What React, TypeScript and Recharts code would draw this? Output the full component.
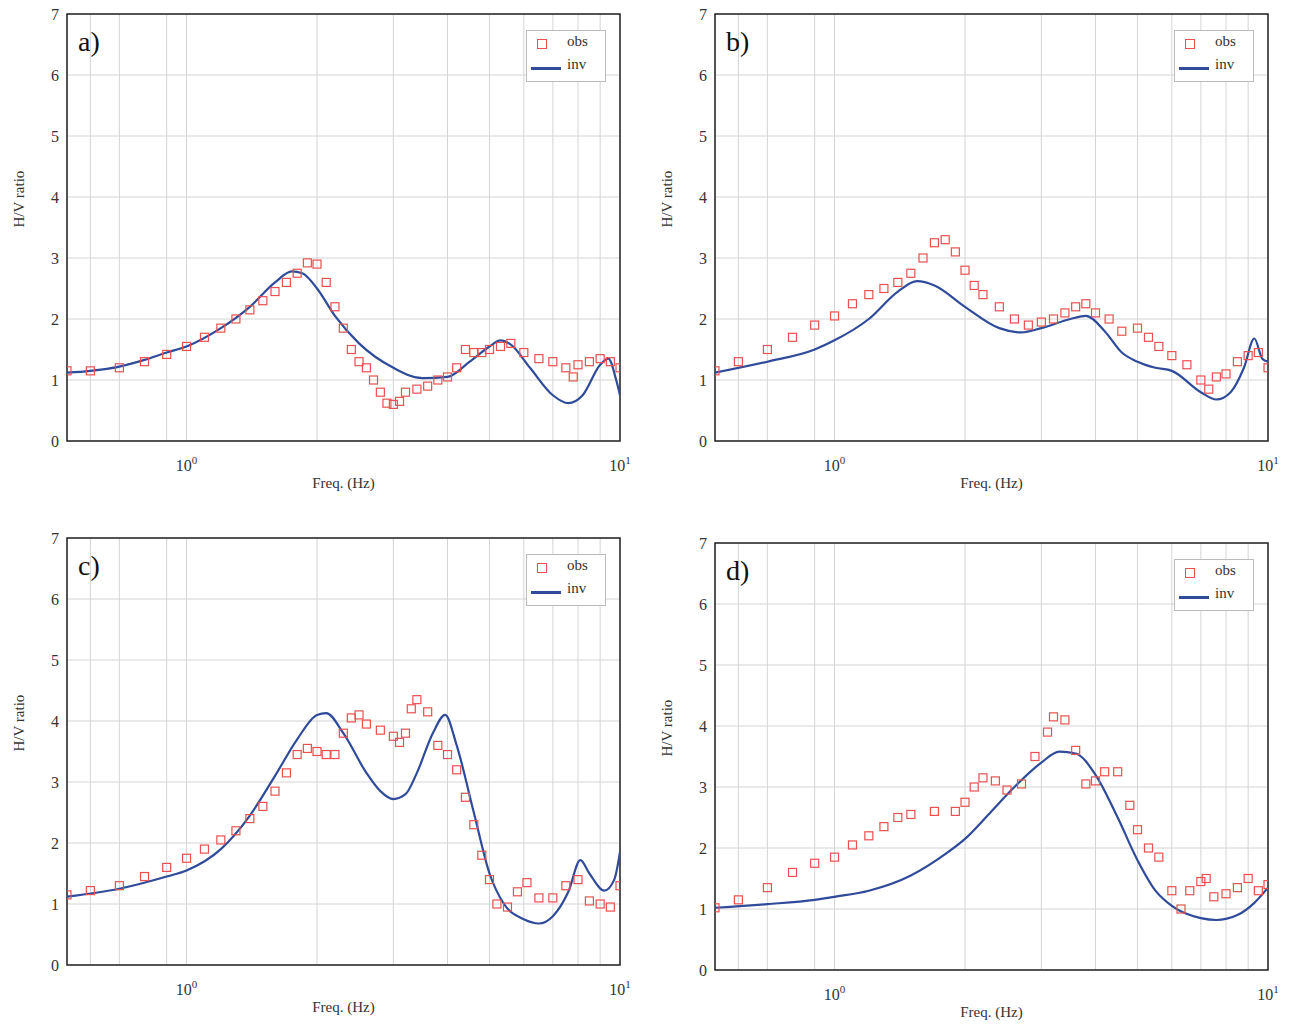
import React from 'react';
import { ComposedChart, Line, Scatter, XAxis, YAxis, CartesianGrid, ReferenceArea } from 'recharts';

const xTicks = [0.6, 0.7, 0.8, 0.9, 1, 2, 3, 4, 5, 6, 7, 8, 9, 10];
const yTicks = [0, 1, 2, 3, 4, 5, 6, 7];

// panel a
const obsAF = [0.53, 0.6, 0.7, 0.8, 0.9, 1.0, 1.1, 1.2, 1.3, 1.4, 1.5, 1.6, 1.7, 1.8, 1.9, 2.0, 2.1, 2.2, 2.3, 2.4, 2.5, 2.6, 2.7, 2.8, 2.9, 3.0, 3.1, 3.2, 3.4, 3.6, 3.8, 4.0, 4.2, 4.4, 4.6, 4.8, 5.0, 5.3, 5.6, 6.0, 6.5, 7.0, 7.5, 7.8, 8.0, 8.5, 9.0, 9.5, 10];
const obsAV = [1.15, 1.15, 1.2, 1.3, 1.42, 1.55, 1.7, 1.85, 2.0, 2.15, 2.3, 2.45, 2.6, 2.75, 2.92, 2.9, 2.6, 2.2, 1.85, 1.5, 1.3, 1.2, 1.0, 0.8, 0.62, 0.6, 0.65, 0.8, 0.85, 0.9, 1.0, 1.05, 1.2, 1.5, 1.45, 1.45, 1.5, 1.55, 1.6, 1.45, 1.35, 1.3, 1.2, 1.05, 1.25, 1.3, 1.35, 1.3, 1.2];
const invAF = [0.53, 0.6, 0.7, 0.8, 0.9, 1.0, 1.2, 1.4, 1.6, 1.75, 1.85, 2.0, 2.2, 2.5, 3.0, 3.5, 4.0, 4.5, 5.0, 5.3, 5.6, 6.2, 7.0, 7.6, 8.2, 9.0, 9.4, 9.8, 10];
const invAV = [1.12, 1.15, 1.22, 1.33, 1.45, 1.55, 1.85, 2.2, 2.6, 2.78, 2.75, 2.5, 2.05, 1.6, 1.2, 1.03, 1.05, 1.3, 1.55, 1.65, 1.58, 1.2, 0.75, 0.62, 0.75, 1.25, 1.35, 1.0, 0.75];

// panel b
const obsBF = [0.53, 0.6, 0.7, 0.8, 0.9, 1.0, 1.1, 1.2, 1.3, 1.4, 1.5, 1.6, 1.7, 1.8, 1.9, 2.0, 2.1, 2.2, 2.4, 2.6, 2.8, 3.0, 3.2, 3.4, 3.6, 3.8, 4.0, 4.3, 4.6, 5.0, 5.3, 5.6, 6.0, 6.5, 7.0, 7.3, 7.6, 8.0, 8.5, 9.0, 9.5, 10];
const obsBV = [1.15, 1.3, 1.5, 1.7, 1.9, 2.05, 2.25, 2.4, 2.5, 2.6, 2.75, 3.0, 3.25, 3.3, 3.1, 2.8, 2.55, 2.4, 2.2, 2.0, 1.9, 1.95, 2.0, 2.1, 2.2, 2.25, 2.1, 2.0, 1.8, 1.85, 1.7, 1.55, 1.4, 1.25, 1.0, 0.85, 1.05, 1.1, 1.3, 1.4, 1.45, 1.2];
const invBF = [0.53, 0.7, 0.9, 1.0, 1.2, 1.4, 1.55, 1.7, 2.0, 2.4, 2.7, 3.0, 3.5, 3.8, 4.2, 4.6, 5.0, 5.5, 6.0, 7.0, 7.6, 8.2, 8.8, 9.3, 9.7, 10];
const invBV = [1.12, 1.3, 1.5, 1.65, 2.0, 2.45, 2.62, 2.55, 2.2, 1.85, 1.78, 1.85, 2.0, 2.05, 1.8, 1.45, 1.3, 1.2, 1.15, 0.8, 0.68, 0.8, 1.2, 1.68, 1.35, 1.3];

// panel c
const obsCF = [0.53, 0.6, 0.7, 0.8, 0.9, 1.0, 1.1, 1.2, 1.3, 1.4, 1.5, 1.6, 1.7, 1.8, 1.9, 2.0, 2.1, 2.2, 2.3, 2.4, 2.5, 2.6, 2.8, 3.0, 3.1, 3.2, 3.3, 3.4, 3.6, 3.8, 4.0, 4.2, 4.4, 4.6, 4.8, 5.0, 5.2, 5.5, 5.8, 6.1, 6.5, 7.0, 7.5, 8.0, 8.5, 9.0, 9.5, 10];
const obsCV = [1.15, 1.22, 1.3, 1.45, 1.6, 1.75, 1.9, 2.05, 2.2, 2.4, 2.6, 2.85, 3.15, 3.45, 3.55, 3.5, 3.45, 3.45, 3.8, 4.05, 4.1, 3.95, 3.85, 3.75, 3.65, 3.8, 4.2, 4.35, 4.15, 3.6, 3.45, 3.2, 2.75, 2.3, 1.8, 1.4, 1.0, 0.95, 1.2, 1.35, 1.1, 1.1, 1.3, 1.4, 1.05, 1.0, 0.95, 1.3];
const invCF = [0.53, 0.7, 0.9, 1.0, 1.2, 1.4, 1.6, 1.8, 2.0, 2.1, 2.3, 2.6, 2.8, 3.0, 3.2, 3.4, 3.7, 3.95, 4.2, 4.6, 5.0, 5.4, 6.0, 6.5, 7.0, 7.6, 8.1, 8.5, 9.2, 9.7, 10];
const invCV = [1.12, 1.25, 1.45, 1.55, 1.9, 2.45, 3.1, 3.7, 4.1, 4.13, 3.8, 3.15, 2.85, 2.72, 2.8, 3.15, 3.8, 4.1, 3.6, 2.5, 1.5, 1.0, 0.75, 0.68, 0.8, 1.2, 1.72, 1.5, 1.22, 1.4, 1.85];

// panel d
const obsDF = [0.53, 0.6, 0.7, 0.8, 0.9, 1.0, 1.1, 1.2, 1.3, 1.4, 1.5, 1.7, 1.9, 2.0, 2.1, 2.2, 2.35, 2.5, 2.7, 2.9, 3.1, 3.2, 3.4, 3.6, 3.8, 4.0, 4.2, 4.5, 4.8, 5.0, 5.3, 5.6, 6.0, 6.3, 6.6, 7.0, 7.2, 7.5, 8.0, 8.5, 9.0, 9.5, 10];
const obsDV = [1.02, 1.15, 1.35, 1.6, 1.75, 1.85, 2.05, 2.2, 2.35, 2.5, 2.55, 2.6, 2.6, 2.75, 3.0, 3.15, 3.1, 2.95, 3.05, 3.5, 3.9, 4.15, 4.1, 3.6, 3.05, 3.1, 3.25, 3.25, 2.7, 2.3, 2.0, 1.85, 1.3, 1.0, 1.3, 1.45, 1.5, 1.2, 1.25, 1.35, 1.5, 1.3, 1.4];
const invDF = [0.53, 0.7, 0.9, 1.0, 1.2, 1.5, 1.8, 2.0, 2.3, 2.6, 3.0, 3.3, 3.6, 4.0, 4.5, 5.0, 5.5, 6.0, 7.0, 7.6, 8.5, 9.3, 10];
const invDV = [1.02, 1.08, 1.15, 1.2, 1.3, 1.55, 1.9, 2.15, 2.6, 3.0, 3.4, 3.58, 3.55, 3.2, 2.5, 1.8, 1.3, 1.05, 0.85, 0.82, 0.9, 1.1, 1.35];

const zip = (f: number[], v: number[]) => f.map((x, i) => ({ f: x, v: v[i] }));

const FONT = '"Liberation Serif", "DejaVu Serif", serif';

const XTick = (props: any) => {
  const { x, y, payload } = props;
  const val = payload.value;
  if (val !== 1 && val !== 10) return null;
  return (
    <text x={x} y={y + 22} textAnchor="middle" fontFamily={FONT} fontSize={16} fill="#333">
      10<tspan dy={-7} fontSize={11}>{val === 1 ? '0' : '1'}</tspan>
    </text>
  );
};

const Square = (props: any) => {
  const { cx, cy } = props;
  if (cx == null || cy == null) return null;
  return <rect x={cx - 4} y={cy - 4} width={8} height={8} fill="none" stroke="#e8514f" strokeWidth={1.2} />;
};

function Panel({ label, obs, inv, left, top }: { label: string; obs: any[]; inv: any[]; left: number; top: number }) {
  return (
    <div style={{ position: 'absolute', left, top, width: 640, height: 500 }}>
      <ComposedChart width={640} height={500} margin={{ top: 14, right: 20, left: 27, bottom: 0 }}>
        <CartesianGrid stroke="#d4d4d4" strokeWidth={1} />
        <XAxis
          dataKey="f"
          type="number"
          scale="log"
          domain={[0.53, 10]}
          ticks={xTicks}
          allowDataOverflow
          tick={<XTick />}
          tickLine={false}
          axisLine={false}
          height={59}
          label={{ value: 'Freq. (Hz)', position: 'insideBottom', offset: 12, fontFamily: FONT, fontSize: 15, fill: '#333' }}
        />
        <YAxis
          dataKey="v"
          type="number"
          domain={[0, 7]}
          ticks={yTicks}
          width={40}
          tickLine={false}
          axisLine={false}
          tick={{ fontFamily: FONT, fontSize: 16, fill: '#333' }}
          label={{ value: 'H/V ratio', angle: -90, position: 'insideLeft', offset: -8, fontFamily: FONT, fontSize: 15, fill: '#333' }}
        />
        <ReferenceArea x1={0.53} x2={10} y1={0} y2={7} fill="none" stroke="#222" strokeWidth={1.5} ifOverflow="extendDomain" />
        <Scatter data={obs} dataKey="v" shape={<Square />} isAnimationActive={false} />
        <Line data={inv} dataKey="v" type="monotone" stroke="#2f4b9a" strokeWidth={2.2} dot={false} isAnimationActive={false} />
      </ComposedChart>
      <div style={{ position: 'absolute', left: 78, top: 26, fontFamily: FONT, fontSize: 28, color: '#111' }}>{label}</div>
      <div style={{ position: 'absolute', left: 526, top: 30, width: 78, height: 50, border: '1px solid #bbb', background: '#fff', fontFamily: FONT, fontSize: 15, color: '#333' }}>
        <div style={{ position: 'absolute', left: 10, top: 3, width: 8, height: 8, marginTop: 5, border: '1.2px solid #e8514f' }} />
        <div style={{ position: 'absolute', left: 40, top: 2 }}>obs</div>
        <div style={{ position: 'absolute', left: 4, top: 36, width: 30, height: 2.5, background: '#2f4b9a' }} />
        <div style={{ position: 'absolute', left: 40, top: 25 }}>inv</div>
      </div>
    </div>
  );
}

export default function App() {
  return (
    <div style={{ position: 'absolute', left: 0, top: 0, width: 1293, height: 1026, background: '#fff' }}>
      <Panel label="a)" obs={zip(obsAF, obsAV)} inv={zip(invAF, invAV)} left={0} top={0} />
      <Panel label="b)" obs={zip(obsBF, obsBV)} inv={zip(invBF, invBV)} left={648} top={0} />
      <Panel label="c)" obs={zip(obsCF, obsCV)} inv={zip(invCF, invCV)} left={0} top={524} />
      <Panel label="d)" obs={zip(obsDF, obsDV)} inv={zip(invDF, invDV)} left={648} top={529} />
    </div>
  );
}
